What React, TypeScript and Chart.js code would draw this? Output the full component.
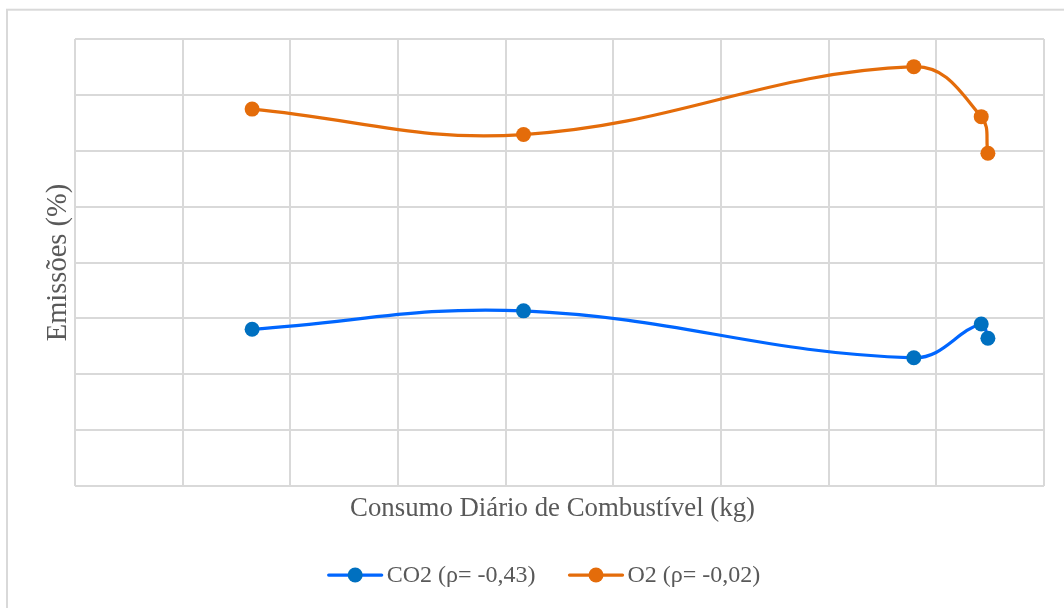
import React, { useEffect, useRef } from "react";
import { Chart, registerables } from "chart.js";

Chart.register(...registerables);

const fuelKg = [164.5, 416.6, 779.1, 841.7, 847.9];
const co2Pct = [5.61, 6.27, 4.59, 5.8, 5.29];
const o2Pct = [13.49, 12.58, 15.01, 13.22, 11.91];
const seriesLabels = ["CO2 (ρ= -0,43)", "O2 (ρ= -0,02)"];
const xAxisTitle = "Consumo Diário de Combustível (kg)";
const yAxisTitle = "Emissões (%)";
const xRange = [0, 900, 100];
const yRange = [0, 16, 2];

const FONT = "'Liberation Serif', 'Times New Roman', serif";
const TEXT = "#595959";
const GRID = "#d9d9d9";

const framePlugin = {
  id: "frame",
  beforeDraw(chart: any) {
    const { ctx, width, height } = chart;
    ctx.save();
    ctx.fillStyle = "#ffffff";
    ctx.fillRect(0, 0, width, height);
    ctx.strokeStyle = GRID;
    ctx.lineWidth = 2;
    ctx.strokeRect(7, 9.7, width + 20, height + 20);
    ctx.restore();
  },
};

const xTitlePlugin = {
  id: "xTitle",
  afterDraw(chart: any) {
    const { ctx, chartArea } = chart;
    ctx.save();
    ctx.font = `26.8px ${FONT}`;
    ctx.fillStyle = TEXT;
    ctx.textAlign = "center";
    ctx.textBaseline = "alphabetic";
    ctx.fillText(xAxisTitle, 552.5, chartArea.bottom + 30);
    ctx.restore();
  },
};

const lineLegendPlugin = {
  id: "lineLegend",
  afterDraw(chart: any) {
    const { ctx } = chart;
    const ds = chart.data.datasets;
    const sample = 53;
    const gapText = 5;
    const gapItem = 34;
    ctx.save();
    ctx.font = `24px ${FONT}`;
    const widths = ds.map((d: any) => ctx.measureText(d.label).width);
    const total =
      widths.reduce((a: number, b: number) => a + b, 0) +
      ds.length * (sample + gapText) +
      (ds.length - 1) * gapItem;
    let x = 544.5 - total / 2;
    const y = 575;
    ds.forEach((d: any, i: number) => {
      ctx.strokeStyle = d.borderColor;
      ctx.lineWidth = 3.25;
      ctx.lineCap = "round";
      ctx.beginPath();
      ctx.moveTo(x, y);
      ctx.lineTo(x + sample, y);
      ctx.stroke();
      ctx.fillStyle = d.pointBackgroundColor;
      ctx.beginPath();
      ctx.arc(x + sample / 2, y, 7.5, 0, Math.PI * 2);
      ctx.fill();
      ctx.fillStyle = TEXT;
      ctx.textBaseline = "middle";
      ctx.textAlign = "left";
      ctx.fillText(d.label, x + sample + gapText, y + 1);
      x += sample + gapText + widths[i] + gapItem;
    });
    ctx.restore();
  },
};

export default function App() {
  const ref = useRef<HTMLCanvasElement | null>(null);

  useEffect(() => {
    if (!ref.current) return;
    const chart = new Chart(ref.current, {
      type: "line",
      data: {
        datasets: [
          {
            label: seriesLabels[0],
            data: fuelKg.map((x, i) => ({ x, y: co2Pct[i] })),
            borderColor: "#0066ff",
            pointBackgroundColor: "#0070c0",
            pointBorderColor: "#0070c0",
            borderWidth: 3.25,
            pointRadius: 7.5,
            pointBorderWidth: 0,
            tension: 0.4,
            fill: false,
          },
          {
            label: seriesLabels[1],
            data: fuelKg.map((x, i) => ({ x, y: o2Pct[i] })),
            borderColor: "#e46c0a",
            pointBackgroundColor: "#e46c0a",
            pointBorderColor: "#e46c0a",
            borderWidth: 3.25,
            pointRadius: 7.5,
            pointBorderWidth: 0,
            tension: 0.4,
            fill: false,
          },
        ],
      },
      options: {
        responsive: false,
        animation: false,
        devicePixelRatio: 1,
        layout: { padding: { left: 0, top: 39, right: 20, bottom: 85 } },
        plugins: {
          legend: { display: false },
          tooltip: { enabled: false },
        },
        scales: {
          x: {
            type: "linear",
            min: xRange[0],
            max: xRange[1],
            ticks: { display: false, stepSize: xRange[2] },
            grid: { color: GRID, lineWidth: 2, drawTicks: false },
            border: { display: false },
            title: { display: false },
            afterFit: (s: any) => {
              s.height = 37;
            },
          },
          y: {
            type: "linear",
            min: yRange[0],
            max: yRange[1],
            ticks: { display: false, stepSize: yRange[2] },
            grid: { color: GRID, lineWidth: 2, drawTicks: false },
            border: { display: false },
            title: {
              display: true,
              text: yAxisTitle,
              color: TEXT,
              font: { family: FONT, size: 28.5 },
              padding: { top: 41, bottom: 0 },
            },
            afterFit: (s: any) => {
              s.width = 75;
            },
          },
        },
      },
      plugins: [framePlugin, xTitlePlugin, lineLegendPlugin],
    });
    return () => chart.destroy();
  }, []);

  return (
    <div style={{ position: "absolute", left: 0, top: 0, width: 1064, height: 608 }}>
      <canvas ref={ref} width={1064} height={608} />
    </div>
  );
}
